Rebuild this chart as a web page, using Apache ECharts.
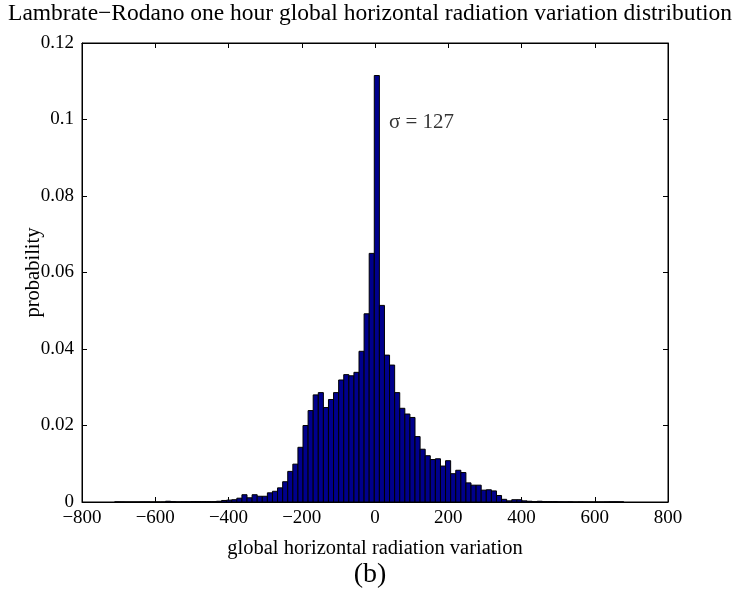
<!DOCTYPE html>
<html>
<head>
<meta charset="utf-8">
<script src="https://cdn.jsdelivr.net/npm/echarts@6/dist/echarts.min.js"></script>
<style>html,body{margin:0;padding:0;background:#fff}#c{width:740px;height:593px}</style>
</head>
<body>
<div id="c"></div>
<script>
// Histogram bins: centre of first bin and bin width (data units)
const firstBinCenter = -703.9;
const binWidth = 13.9;
// Probability per bin (left to right)
const probabilities = [
  0.00003, 0.00002, 0, 0, 0, 0.00003, 0.00003, 0, 0, 0,
  0.0002, 0.0001, 0.00003, 0.00005, 0.00005, 0.0001, 0.0001, 0.0001, 0.0001, 0.0001,
  0.0002, 0.0004, 0.0005, 0.0006, 0.0010, 0.0019, 0.0011, 0.0019, 0.0015, 0.0015,
  0.0024, 0.0028, 0.0037, 0.0053, 0.0080, 0.0099, 0.0143, 0.0200, 0.0239, 0.0280,
  0.0286, 0.0247, 0.0268, 0.0286, 0.0319, 0.0333, 0.0330, 0.0339, 0.0394, 0.0492,
  0.0650, 0.1115, 0.0514, 0.0384, 0.0358, 0.0286, 0.0245, 0.0230, 0.0221, 0.0171,
  0.0138, 0.0121, 0.0111, 0.0113, 0.0094, 0.0108, 0.0074, 0.0083, 0.0077, 0.0050,
  0.0044, 0.0044, 0.0031, 0.0032, 0.0029, 0.0017, 0.0007, 0.0003, 0.0006, 0.0006,
  0.0003, 0.0002, 0.0001, 0.0002, 0.0001, 0.0001, 0.0001, 0.00005, 0.00003, 0.00005,
  0, 0.00002, 0, 0, 0, 0, 0.00002, 0.00005, 0.00005, 0.00003
];
const xTicks = [-800, -600, -400, -200, 0, 200, 400, 600, 800];
const yTicks = [0, 0.02, 0.04, 0.06, 0.08, 0.1, 0.12];
const titleText = 'Lambrate\u2212Rodano one hour global horizontal radiation variation distribution';
const xLabel = 'global horizontal radiation variation';
const yLabel = 'probability';
const sigmaText = '\u03c3 = 127';
const sigmaPos = [38, 0.0993];
const subLabel = '(b)';

const data = probabilities.map((p, i) => {
  const c = firstBinCenter + i * binWidth;
  return [c - binWidth / 2, c + binWidth / 2, p];
});

const FONT = 'Liberation Serif';
const chart = echarts.init(document.getElementById('c'), null, {renderer: 'canvas'});
const fmtX = v => (v < 0 ? '\u2212' + Math.abs(v) : String(v));
function axisBase() {
  return {
    axisLine: {show: true, onZero: false, lineStyle: {color: '#000', width: 1}},
    axisTick: {show: true, inside: true, length: 5, lineStyle: {color: '#000'}},
    splitLine: {show: false}
  };
}
chart.setOption({
  animation: false,
  backgroundColor: '#fff',
  title: {
    text: titleText, left: 'center', top: -3,
    textStyle: {fontFamily: FONT, fontSize: 23.5, fontWeight: 'normal', color: '#000'}
  },
  grid: {left: 82, right: 72, top: 43, bottom: 91, show: true, borderColor: '#000', borderWidth: 1, backgroundColor: '#fff'},
  xAxis: [
    Object.assign(axisBase(), {
      type: 'value', min: xTicks[0], max: xTicks[xTicks.length - 1], interval: 200,
      position: 'bottom',
      axisLabel: {formatter: fmtX, fontFamily: FONT, fontSize: 19, color: '#000', margin: 7},
      name: xLabel, nameLocation: 'middle', nameGap: 36, nameMoveOverlap: false,
      nameTextStyle: {fontFamily: FONT, fontSize: 20.5, color: '#000'}
    }),
    Object.assign(axisBase(), {
      type: 'value', min: xTicks[0], max: xTicks[xTicks.length - 1], interval: 200,
      position: 'top', axisLabel: {show: false}
    })
  ],
  yAxis: [
    Object.assign(axisBase(), {
      type: 'value', min: yTicks[0], max: yTicks[yTicks.length - 1], interval: 0.02,
      position: 'left',
      axisLabel: {fontFamily: FONT, fontSize: 19, color: '#000', margin: 8},
      name: yLabel, nameLocation: 'middle', nameGap: 38, nameMoveOverlap: false,
      nameTextStyle: {fontFamily: FONT, fontSize: 20.5, color: '#000'}
    }),
    Object.assign(axisBase(), {
      type: 'value', min: yTicks[0], max: yTicks[yTicks.length - 1], interval: 0.02,
      position: 'right', axisLabel: {show: false}
    })
  ],
  series: [
    {
      type: 'custom',
      xAxisIndex: 0, yAxisIndex: 0,
      data: data,
      encode: {x: [0, 1], y: 2},
      renderItem: function (params, api) {
        const p0 = api.coord([api.value(0), api.value(2)]);
        const p1 = api.coord([api.value(1), 0]);
        return {
          type: 'rect',
          shape: {x: p0[0], y: p0[1], width: p1[0] - p0[0], height: p1[1] - p0[1]},
          style: {fill: '#00008c', stroke: '#000', lineWidth: 1}
        };
      }
    },
    {
      type: 'scatter', xAxisIndex: 0, yAxisIndex: 0,
      symbolSize: 0,
      data: [sigmaPos],
      label: {show: true, position: 'right', distance: 0, formatter: sigmaText,
        fontFamily: FONT, fontSize: 21, color: '#000'},
      emphasis: {disabled: true},
      silent: true
    }
  ],
  graphic: [
    {type: 'text', left: 'center', top: 561,
      style: {text: subLabel, font: '28px "' + FONT + '"', fill: '#000'}}
  ]
});
</script>
</body>
</html>
